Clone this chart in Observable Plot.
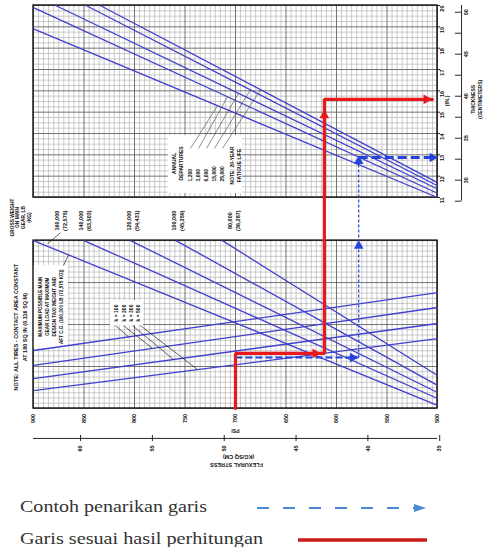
<!DOCTYPE html>
<html><head><meta charset="utf-8">
<script src="https://cdn.jsdelivr.net/npm/d3@7"></script>
<script src="https://cdn.jsdelivr.net/npm/@observablehq/plot@0.6"></script>
<style>
body{margin:0;background:#fff;}
#chart{width:485px;height:547px;position:relative;overflow:hidden;background:#fff}
#chart svg{display:block}
</style></head><body><div id="chart"></div>
<script>
// ---------------- data ----------------
const stressTicksPsi = [900, 850, 800, 750, 700, 650, 600, 550, 500];
const stressTicksKg = [60, 55, 50, 45, 40, 35];
const thicknessTicksIn = [20, 19, 18, 17, 16, 15, 14, 13, 12, 11];
const thicknessTicksCm = [50, 47.5, 45, 42.5, 40, 37.5, 35, 32.5, 30, 27.5];

const departures = ["1,200", "3,000", "6,000", "15,000", "25,000"];
const departureStart = [[900, 18.9], [900, 19.9], [878, 20], [848, 20], [834, 20]];
const departureEnd = [[500, 11.0], [500, 11.2], [500, 11.4], [500, 11.55], [500, 11.7]];

const gearWeightsLb = ["160,000", "140,000", "120,000", "100,000", "80,000"];
const gearWeightsKg = ["(72,575)", "(63,503)", "(54,431)", "(45,359)", "(36,287)"];
const gearStart = [[900, 32], [850, 32], [804, 32], [759, 32], [713, 32]];
const gearEnd = [[500, 0.6], [500, 1.9], [500, 3.05], [500, 4.4], [500, 6.3]];

const kValues = ["k = 100", "k = 200", "k = 300", "k = 500"];
const kStart = [[900, 11.05], [900, 8.2], [900, 5.7], [900, 3.4]];
const kEnd = [[500, 22.1], [500, 19.25], [500, 16.2], [500, 13.3]];

// example (blue dashed) and calculated (red) reading paths
const examplePath = [
  {psi: 700, panel: "bottom", v: 0}, {psi: 700, panel: "bottom", v: 9.7},
  {psi: 578, panel: "bottom", v: 9.7}, {psi: 578, panel: "top", v: 12.875},
  {psi: 500, panel: "top", v: 12.875}
];
const calcPath = [
  {psi: 700, panel: "bottom", v: 0}, {psi: 700, panel: "bottom", v: 10.5},
  {psi: 612, panel: "bottom", v: 10.5}, {psi: 612, panel: "top", v: 15.6},
  {psi: 505, panel: "top", v: 15.6}
];
const arrowHeads = [
  {psi: 511, panel: "top", v: 15.6, rot: 90, c: "red"},
  {psi: 612, panel: "top", v: 14.85, rot: 0, c: "red"},
  {psi: 621, panel: "bottom", v: 10.5, rot: 90, c: "red"},
  {psi: 505, panel: "top", v: 12.875, rot: 90, c: "blue"},
  {psi: 578, panel: "top", v: 12.7, rot: 0, c: "blue"},
  {psi: 578, panel: "bottom", v: 31, rot: 0, c: "blue"},
  {psi: 584, panel: "bottom", v: 9.7, rot: 90, c: "blue"}
];

// ---------------- layout of the lower panel inside the shared y scale ----------------
const B_Y0 = 1.11, B_Y1 = 8.98, B_N = 32;
const yB = u => B_Y0 + u * (B_Y1 - B_Y0) / B_N;
const yOf = p => p.panel === "top" ? p.v : yB(p.v);
const interp = (s, e, psi) => s[1] + (e[1] - s[1]) * (psi - s[0]) / (e[0] - s[0]);

const LINE = "#4040cf", RED = "#e8191c", BLUE = "#2443dc";
const MINOR = "#a2a2a2", MAJOR = "#5c5c5c";
const psiGrid = d3.range(900, 499, -5);
const topRows = d3.range(11, 20.001, 0.25);
const botRows = d3.range(0, B_N + 0.5, 1);

const depLines = departures.map((d, i) => ({label: d, x1: departureStart[i][0], y1: departureStart[i][1], x2: departureEnd[i][0], y2: departureEnd[i][1]}));
const gearLines = gearWeightsLb.map((d, i) => ({label: d, x1: gearStart[i][0], y1: yB(gearStart[i][1]), x2: gearEnd[i][0], y2: yB(gearEnd[i][1])}));
const kLines = kValues.map((d, i) => ({label: d, x1: kStart[i][0], y1: yB(kStart[i][1]), x2: kEnd[i][0], y2: yB(kEnd[i][1])}));

// annotation placement
const depNumPsi = [744.6, 736.6, 728.7, 720.8, 712.9];
const depTargetPsi = [717.8, 707.9, 697, 685.2, 675.2];
const depLeaders = departures.map((d, i) => ({x1: depNumPsi[i], y1: 13.3, x2: depTargetPsi[i], y2: interp(departureStart[i], departureEnd[i], depTargetPsi[i])}));
const kColPsi = [818.8, 810.9, 802, 794.1];
const kTargetPsi = [805.9, 782.2, 761.4, 737.6];
const kLeaders = kValues.map((d, i) => ({x1: kColPsi[i], y1: yB(15.8), x2: kTargetPsi[i], y2: yB(interp(kStart[i], kEnd[i], kTargetPsi[i]))}));
const gearLabelPsi = [873.3, 849.5, 802, 757.4, 702];
const gearLabels = gearWeightsLb.map((d, i) => ({psi: gearLabelPsi[i], text: d + "\n" + gearWeightsKg[i]}));

const exSegs = d3.pairs(examplePath).map(([a, b]) => ({x1: a.psi, y1: yOf(a), x2: b.psi, y2: yOf(b), vertical: a.psi === b.psi}));

const TXT = {fontSize: 5.5, fontWeight: "bold", fill: "#111"};

const chart = Plot.plot({
  width: 485, height: 480,
  marginLeft: 33, marginRight: 48, marginTop: 5, marginBottom: 72,
  x: {domain: [900, 500], axis: null},
  y: {domain: [20, 11], range: [5, 197], axis: null},
  style: {fontFamily: "Liberation Sans, Arial, sans-serif", background: "white", overflow: "visible"},
  marks: [
    // top panel grid
    Plot.ruleX(psiGrid.filter(d => d % 50), {x: d => d, y1: () => 11, y2: () => 20, stroke: MINOR, strokeWidth: 0.55}),
    Plot.ruleY(topRows.filter(d => d % 1), {y: d => d, x1: () => 900, x2: () => 500, stroke: MINOR, strokeWidth: 0.55}),
    Plot.ruleX(psiGrid.filter(d => d % 50 === 0), {x: d => d, y1: () => 11, y2: () => 20, stroke: MAJOR, strokeWidth: 0.85}),
    Plot.ruleY(topRows.filter(d => d % 1 === 0), {y: d => d, x1: () => 900, x2: () => 500, stroke: MAJOR, strokeWidth: 0.85}),
    // bottom panel grid
    Plot.ruleX(psiGrid.filter(d => d % 50), {x: d => d, y1: () => yB(0), y2: () => yB(B_N), stroke: MINOR, strokeWidth: 0.55}),
    Plot.ruleY(botRows.filter(d => d % 8), {y: d => yB(d), x1: () => 900, x2: () => 500, stroke: MINOR, strokeWidth: 0.55}),
    Plot.ruleX(psiGrid.filter(d => d % 50 === 0), {x: d => d, y1: () => yB(0), y2: () => yB(B_N), stroke: MAJOR, strokeWidth: 0.85}),
    Plot.ruleY(botRows.filter(d => d % 8 === 0), {y: d => yB(d), x1: () => 900, x2: () => 500, stroke: MAJOR, strokeWidth: 0.85}),
    // white annotation boxes
    Plot.rect([{x1: 766.3, x2: 693.1, y1: 13.9, y2: 11.19}, {x1: 823.8, x2: 791.1, y1: yB(20.57), y2: yB(15.81)}, {x1: 900, x2: 865.3, y1: yB(27.24), y2: yB(11.43)}],
      {x1: "x1", x2: "x2", y1: "y1", y2: "y2", fill: "white"}),
    // frames
    Plot.rect([{y1: 11, y2: 20}, {y1: yB(0), y2: yB(B_N)}], {x1: () => 900, x2: () => 500, y1: "y1", y2: "y2", fill: "none", stroke: "#111", strokeWidth: 1.4}),
    // nomograph lines
    Plot.link(depLines, {x1: "x1", y1: "y1", x2: "x2", y2: "y2", stroke: LINE, strokeWidth: 1.3}),
    Plot.link(gearLines, {x1: "x1", y1: "y1", x2: "x2", y2: "y2", stroke: LINE, strokeWidth: 1.3}),
    Plot.link(kLines, {x1: "x1", y1: "y1", x2: "x2", y2: "y2", stroke: LINE, strokeWidth: 1.3}),
    // leaders
    Plot.link(depLeaders, {x1: "x1", y1: "y1", x2: "x2", y2: "y2", stroke: "#444", strokeWidth: 0.6}),
    Plot.link(kLeaders, {x1: "x1", y1: "y1", x2: "x2", y2: "y2", stroke: "#222", strokeWidth: 0.7}),
    Plot.link([{x1: 873.3, y1: yB(33.5), x2: 886.1, y2: yB(31.4)}, {x1: 870.3, y1: yB(27.24), x2: 865.3, y2: yB(29.3)}],
      {x1: "x1", y1: "y1", x2: "x2", y2: "y2", stroke: "#222", strokeWidth: 0.7}),
    // texts in top box
    Plot.text(["ANNUAL\nDEPARTURES"], {x: () => 757.4, y: () => 12.6, text: d => d, rotate: -90, lineHeight: 1.45, ...TXT, fontSize: 5}),
    Plot.text(departures, {x: (d, i) => depNumPsi[i], y: () => 11.75, text: d => d, rotate: -90, textAnchor: "start", ...TXT, fontSize: 5}),
    Plot.text(["NOTE: 20-YEAR\nFATIGUE LIFE"], {x: () => 700, y: () => 12.5, text: d => d, rotate: -90, lineHeight: 1.45, ...TXT, fontSize: 5}),
    // k box
    Plot.text([kValues.join("\n")], {x: () => 807.4, y: () => yB(18.2), text: d => d, rotate: -90, lineHeight: 1.45, ...TXT, fontSize: 5}),
    // note box in lower panel
    Plot.text(["MAXIMUM POSSIBLE MAIN\nGEAR LOAD AT MAXIMUM\nDESIGN TAXI WEIGHT AND\nAFT C.G. (160,000 LB (72,575 KG))"],
      {x: () => 883.2, y: () => yB(19.4), text: d => d, rotate: -90, lineHeight: 1.5, ...TXT, fontSize: 4.6}),
    // left note
    Plot.text(["NOTE: ALL TIRES - CONTACT AREA CONSTANT\nAT 180 SQ IN (0.116 SQ M)"],
      {x: () => 914, y: () => yB(15.5), text: d => d, rotate: -90, lineHeight: 1.7, ...TXT}),
    // gear weight header and labels
    Plot.text(["GROSS WEIGHT\nON MAIN\nGEAR, LB\n(KG)"], {x: () => 912.9, y: () => yB(36.4), text: d => d, rotate: -90, lineHeight: 1.2, ...TXT, fontSize: 4.8}),
    Plot.text(gearLabels, {x: "psi", y: () => yB(35.8), text: "text", rotate: -90, lineHeight: 1.5, ...TXT}),
    // bottom stress axis (psi)
    Plot.text(stressTicksPsi, {x: d => d, y: () => yB(-1.9), text: d => String(d), rotate: -90, ...TXT}),
    Plot.text(["PSI"], {x: () => 700, y: () => yB(-4.2), text: d => d, rotate: 180, ...TXT, fontSize: 5}),
    // secondary stress axis (kg/sq cm)
    Plot.ruleY([yB(-5.71)], {y: d => d, x1: () => 900, x2: () => 500, stroke: "#111", strokeWidth: 0.9}),
    Plot.ruleX(stressTicksKg, {x: d => d * 14.2233, y1: () => yB(-5.14), y2: () => yB(-6.29), stroke: "#111", strokeWidth: 0.9}),
    Plot.text(stressTicksKg, {x: d => d * 14.2233, y: () => yB(-7.62), text: d => String(d), rotate: -90, ...TXT}),
    Plot.text(["(KG/SQ CM)"], {x: () => 697, y: () => yB(-9.14), text: d => d, rotate: 180, ...TXT}),
    Plot.text(["FLEXURAL STRESS"], {x: () => 699, y: () => yB(-10.67), text: d => d, rotate: 180, ...TXT}),
    // thickness axis (inches) on the right of the top panel
    Plot.ruleY(thicknessTicksIn, {y: d => d, x1: () => 500, x2: () => 497, stroke: "#111", strokeWidth: 0.9}),
    Plot.text(thicknessTicksIn, {y: d => d, frameAnchor: "right", dx: 5, text: d => String(d), rotate: -90, ...TXT}),
    Plot.text(["(IN.)"], {y: () => 15.78, frameAnchor: "right", dx: 10, text: d => d, rotate: -90, ...TXT}),
    // thickness axis (centimetres)
    Plot.ruleX([476.2], {x: d => d, y1: () => 20, y2: () => 27.5 / 2.54, stroke: "#111", strokeWidth: 0.9}),
    Plot.ruleY(thicknessTicksCm, {y: d => d / 2.54, x1: () => 482.2, x2: () => 476.2, stroke: "#111", strokeWidth: 0.9}),
    Plot.text(thicknessTicksCm.filter(d => d % 5 === 0), {x: () => 471.3, y: d => d / 2.54, text: d => String(d), rotate: -90, ...TXT}),
    Plot.text(["THICKNESS\n(CENTIMETERS)"], {x: () => 461.5, y: () => 15.6, text: d => d, rotate: -90, lineHeight: 1.3, ...TXT, fontSize: 5}),
    // example path (blue dashed)
    Plot.link(exSegs.filter(d => d.vertical), {x1: "x1", y1: "y1", x2: "x2", y2: "y2", stroke: BLUE, strokeWidth: 1.2, strokeDasharray: "3,2"}),
    Plot.link(exSegs.filter(d => !d.vertical && d.y1 < 11), {x1: "x1", y1: "y1", x2: "x2", y2: "y2", stroke: BLUE, strokeWidth: 2, strokeDasharray: "7,3"}),
    Plot.link(exSegs.filter(d => !d.vertical && d.y1 >= 11), {x1: "x1", y1: "y1", x2: "x2", y2: "y2", stroke: BLUE, strokeWidth: 2.8, strokeDasharray: "9,4"}),
    // calculated path (red)
    Plot.line(calcPath, {x: "psi", y: yOf, stroke: RED, strokeWidth: 3.2, strokeLinejoin: "miter"}),
    Plot.dot(arrowHeads, {x: "psi", y: yOf, symbol: "triangle", rotate: "rot", r: 3.6, fill: d => d.c === "red" ? RED : BLUE, stroke: "none"})
  ]
});
document.getElementById("chart").append(chart);

// ---------------- legend below the chart ----------------
const legendItems = [
  {label: "Contoh penarikan garis", color: "#4a88d2", dashed: true, x1: 257, x2: 420, width: 187},
  {label: "Garis sesuai hasil perhitungan", color: "#cc1a1a", dashed: false, x1: 298, x2: 427, width: 243}
];
const lg = d3.create("svg").attr("width", 485).attr("height", 67);
legendItems.forEach((d, i) => {
  const y = 28 + i * 32;
  lg.append("text").attr("x", 20).attr("y", y + 4).attr("textLength", d.width).attr("lengthAdjust", "spacingAndGlyphs")
    .attr("font-family", "Liberation Serif, Times New Roman, serif").attr("font-size", 17).attr("fill", "#333").text(d.label);
  lg.append("line").attr("x1", d.x1).attr("x2", d.x2).attr("y1", y).attr("y2", y)
    .attr("stroke", d.color).attr("stroke-width", d.dashed ? 2.2 : 3.5).attr("stroke-dasharray", d.dashed ? "12,14" : null);
  if (d.dashed) lg.append("path").attr("d", `M${d.x2 - 6},${y - 4}L${d.x2 + 6},${y}L${d.x2 - 6},${y + 4}Z`).attr("fill", d.color);
});
document.getElementById("chart").append(lg.node());
</script>
</body></html>
